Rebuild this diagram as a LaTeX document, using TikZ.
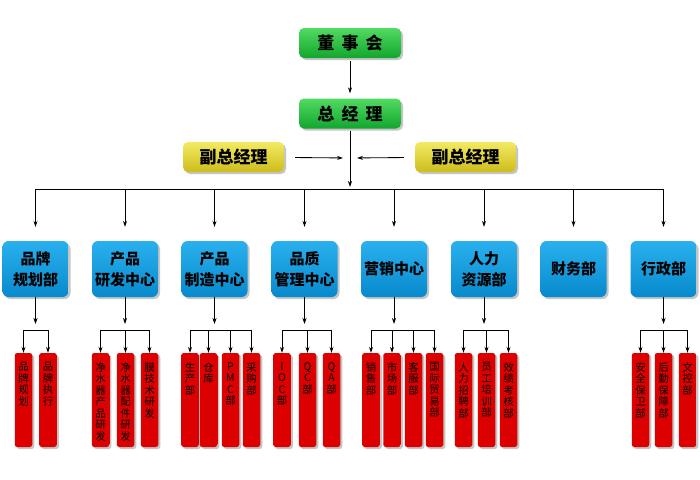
\documentclass[tikz,border=0pt]{standalone}
\usepackage{fontspec}
\newfontfamily\cjk{Noto Sans CJK SC}
\newfontfamily\cjkwide[WordSpace=1.8]{Noto Sans CJK SC}
\usepackage{xcolor}
\usepackage{tikz}
\usetikzlibrary{shadows,arrows.meta}

\definecolor{grtop}{HTML}{52DA62}
\definecolor{grbot}{HTML}{12A62E}
\definecolor{yltop}{HTML}{F2EA62}
\definecolor{ylbot}{HTML}{CDBD1C}
\definecolor{bltop}{HTML}{2AB0EE}
\definecolor{blbot}{HTML}{078ACD}
\definecolor{rdedge}{HTML}{DC0000}

\begin{document}
\begin{tikzpicture}[x=1pt, y=-1pt,
    arr/.style={-{Stealth[length=6pt,width=4pt]}, line width=0.85pt},
    shade/.style={drop shadow={shadow xshift=2pt, shadow yshift=-2pt, fill=black!45}},
    topbox/.style={shade, rounded corners=5pt, top color=grtop, bottom color=grbot, minimum width=102pt, minimum height=30pt, inner sep=0pt, font=\cjkwide\bfseries\fontsize{17}{20}\selectfont},
    vpbox/.style={shade, rounded corners=5pt, top color=yltop, bottom color=ylbot, minimum width=101pt, minimum height=30pt, inner sep=0pt, font=\cjk\bfseries\fontsize{17}{20}\selectfont},
    deptbox/.style={shade, rounded corners=6pt, top color=bltop, bottom color=blbot, minimum width=66pt, minimum height=56pt, inner sep=0pt, align=center, font=\cjk\bfseries\fontsize{15}{21}\selectfont},
    redbox/.style={shade, rounded corners=2.5pt, left color=rdedge, middle color=red, right color=rdedge, minimum width=17.5pt, minimum height=94pt, inner sep=0pt},
    redtxt/.style={anchor=north, yshift=-9.5pt, inner sep=0pt, align=center, font=\cjk\fontsize{10.5}{11.5}\selectfont}]

    \fill [white] (0,0) rectangle (700,479);
    \useasboundingbox (0,0) rectangle (700,479);

    % top of the tree
    \node [topbox] (board) at (350,43) {董 事 会};
    \node [topbox] (gm) at (350,113.5) {总 经 理};
    \node [vpbox] (vpl) at (233.5,157) {副总经理};
    \node [vpbox] (vpr) at (465.5,157) {副总经理};
    \coordinate (mid) at (350,158);
    \coordinate (bus) at (350,189);

    \draw [arr, shorten <=3pt, shorten >=5pt] (board) -- (gm);
    \draw [arr, shorten <=11pt, shorten >=7pt] (vpl) -- (mid);
    \draw [arr, shorten <=11pt, shorten >=7pt] (vpr) -- (mid);
    \draw [arr, shorten <=2pt, shorten >=2pt] (gm) -- (bus);

    % departments
    \node [deptbox] (d1) at (35.5,269) {品牌\\规划部};
    \node [deptbox] (d2) at (125,269) {产品\\研发中心};
    \node [deptbox] (d3) at (214.5,269) {产品\\制造中心};
    \node [deptbox] (d4) at (304.5,269) {品质\\管理中心};
    \node [deptbox] (d5) at (394,269) {营销中心};
    \node [deptbox] (d6) at (484,269) {人力\\资源部};
    \node [deptbox] (d7) at (573.5,269) {财务部};
    \node [deptbox] (d8) at (663.5,269) {行政部};

    \draw [arr, shorten >=14pt] (bus) -| (d1); \draw [arr, shorten >=14pt] (bus) -| (d2);
    \draw [arr, shorten >=14pt] (bus) -| (d3); \draw [arr, shorten >=14pt] (bus) -| (d4);
    \draw [arr, shorten >=14pt] (bus) -| (d5); \draw [arr, shorten >=14pt] (bus) -| (d6);
    \draw [arr, shorten >=14pt] (bus) -| (d7); \draw [arr, shorten >=14pt] (bus) -| (d8);

    % sections
    \node [redbox, label={[redtxt]north:品\\牌\\规\\划}] (r11) at (23.5,400) {};
    \node [redbox, label={[redtxt]north:品\\牌\\执\\行}] (r12) at (48,400) {};

    \node [redbox, label={[redtxt]north:净\\水\\器\\产\\品\\研\\发}] (r21) at (100.5,400) {};
    \node [redbox, label={[redtxt]north:净\\水\\器\\配\\件\\研\\发}] (r22) at (125.5,400) {};
    \node [redbox, label={[redtxt]north:膜\\技\\术\\研\\发}] (r23) at (149.5,400) {};

    \node [redbox, label={[redtxt]north:生\\产\\部}] (r31) at (190,400) {};
    \node [redbox, label={[redtxt]north:仓\\库}] (r32) at (208.5,400) {};
    \node [redbox, label={[redtxt]north:P\\M\\C\\部}] (r33) at (230.5,400) {};
    \node [redbox, label={[redtxt]north:采\\购\\部}] (r34) at (251.5,400) {};

    \node [redbox, label={[redtxt]north:I\\O\\C\\部}] (r41) at (282,400) {};
    \node [redbox, label={[redtxt]north:Q\\C\\部}] (r42) at (307.5,400) {};
    \node [redbox, label={[redtxt]north:Q\\A\\部}] (r43) at (331.5,400) {};

    \node [redbox, label={[redtxt]north:销\\售\\部}] (r51) at (371,400) {};
    \node [redbox, label={[redtxt]north:市\\场\\部}] (r52) at (392,400) {};
    \node [redbox, label={[redtxt]north:客\\服\\部}] (r53) at (413.5,400) {};
    \node [redbox, label={[redtxt]north:国\\际\\贸\\易\\部}] (r54) at (434.5,400) {};

    \node [redbox, label={[redtxt]north:人\\力\\招\\聘\\部}] (r61) at (463.5,400) {};
    \node [redbox, label={[redtxt]north:员\\工\\培\\训\\部}] (r62) at (486.5,400) {};
    \node [redbox, label={[redtxt]north:效\\绩\\考\\核\\部}] (r63) at (508.5,400) {};

    \node [redbox, label={[redtxt]north:安\\全\\保\\卫\\部}] (r81) at (640.5,400) {};
    \node [redbox, label={[redtxt]north:后\\勤\\保\\障\\部}] (r82) at (663.5,400) {};
    \node [redbox, label={[redtxt]north:文\\控\\部}] (r83) at (687.5,400) {};

    % small buses under the departments
    \coordinate (k1) at (35.5,330); \coordinate (k2) at (125,330); \coordinate (k3) at (214.5,330);
    \coordinate (k4) at (304.5,330); \coordinate (k5) at (394,330); \coordinate (k6) at (484,330);
    \coordinate (k8) at (663.5,330);

    \draw [arr, shorten >=6pt] (d1) -- (k1); \draw [arr] (k1) -| (r11); \draw [arr] (k1) -| (r12);
    \draw [arr, shorten >=6pt] (d2) -- (k2); \draw [arr] (k2) -| (r21); \draw [arr] (k2) -| (r22); \draw [arr] (k2) -| (r23);
    \draw [arr, shorten >=6pt] (d3) -- (k3); \draw [arr] (k3) -| (r31); \draw [arr] (k3) -| (r32); \draw [arr] (k3) -| (r33); \draw [arr] (k3) -| (r34);
    \draw [arr, shorten >=6pt] (d4) -- (k4); \draw [arr] (k4) -| (r41); \draw [arr] (k4) -| (r42); \draw [arr] (k4) -| (r43);
    \draw [arr, shorten >=6pt] (d5) -- (k5); \draw [arr] (k5) -| (r51); \draw [arr] (k5) -| (r52); \draw [arr] (k5) -| (r53); \draw [arr] (k5) -| (r54);
    \draw [arr, shorten >=6pt] (d6) -- (k6); \draw [arr] (k6) -| (r61); \draw [arr] (k6) -| (r62); \draw [arr] (k6) -| (r63);
    \draw [arr, shorten >=6pt] (d8) -- (k8); \draw [arr] (k8) -| (r81); \draw [arr] (k8) -| (r82); \draw [arr] (k8) -| (r83);

\end{tikzpicture}
\end{document}
